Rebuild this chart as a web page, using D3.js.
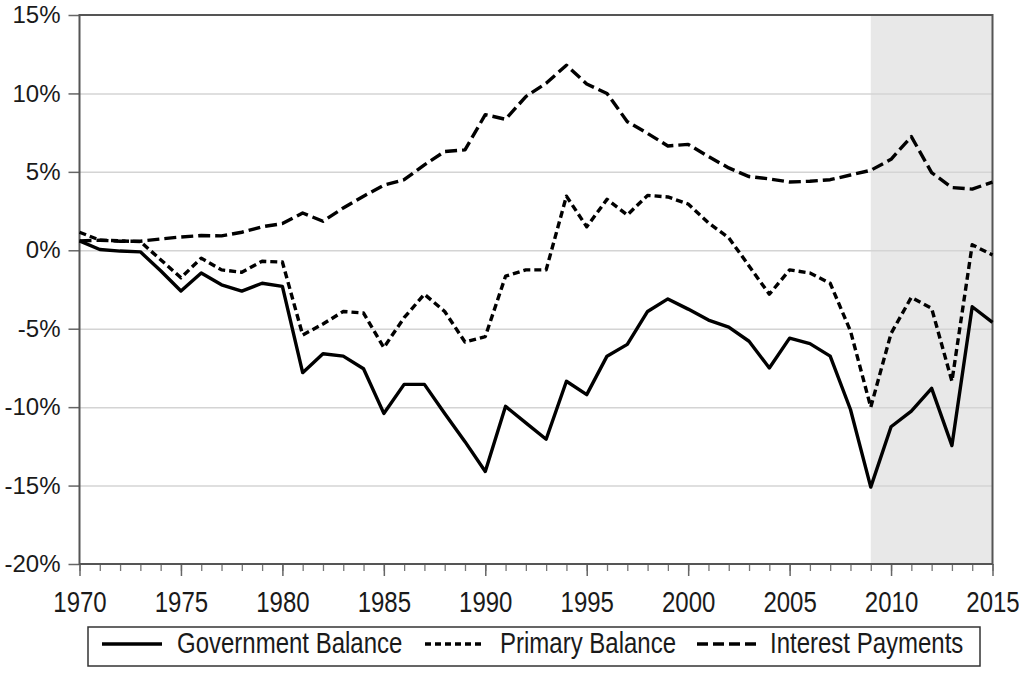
<!DOCTYPE html>
<html>
<head>
<meta charset="utf-8">
<script src="https://cdn.jsdelivr.net/npm/d3@7"></script>
<style>
  body { margin: 0; background: #fff; }
  text { font-family: "Liberation Sans", Arial, sans-serif; fill: #1a1a1a; }
</style>
</head>
<body>
<div class="canvas"></div>
<script>
// years on the x axis
const years = d3.range(1970, 2016);

// series values, % of GDP
const govBalance = [0.6, 0.05, -0.05, -0.1, -1.3, -2.6, -1.45, -2.2, -2.6, -2.1,
  -2.3, -7.8, -6.6, -6.75, -7.55, -10.4, -8.55, -8.55, -10.4, -12.2,
  -14.1, -9.95, -11.0, -12.05, -8.35, -9.2, -6.75, -6.0, -3.9, -3.1,
  -3.75, -4.45, -4.9, -5.8, -7.5, -5.6, -5.95, -6.75, -10.15, -15.1,
  -11.25, -10.25, -8.8, -12.45, -3.6, -4.6];

const primaryBalance = [1.15, 0.65, 0.6, 0.55, -0.6, -1.75, -0.5, -1.25, -1.4, -0.7,
  -0.75, -5.4, -4.7, -3.9, -4.0, -6.2, -4.3, -2.8, -3.9, -5.85,
  -5.5, -1.65, -1.25, -1.25, 3.45, 1.5, 3.25, 2.25, 3.5, 3.4,
  2.95, 1.75, 0.8, -1.0, -2.8, -1.25, -1.45, -2.1, -5.15, -10.0,
  -5.3, -3.0, -3.7, -8.35, 0.35, -0.3];

const interestPayments = [0.6, 0.64, 0.58, 0.58, 0.72, 0.85, 0.94, 0.92, 1.15, 1.5,
  1.7, 2.38, 1.85, 2.7, 3.45, 4.15, 4.5, 5.45, 6.3, 6.4,
  8.65, 8.35, 9.8, 10.65, 11.8, 10.6, 10.0, 8.2, 7.45, 6.65,
  6.75, 5.98, 5.25, 4.7, 4.55, 4.35, 4.4, 4.5, 4.8, 5.1,
  5.8, 7.25, 4.95, 4.0, 3.9, 4.35];

// tick labels
const yTicks = [-20, -15, -10, -5, 0, 5, 10, 15];
const xMajor = [1970, 1975, 1980, 1985, 1990, 1995, 2000, 2005, 2010, 2015];

// shaded period
const shadeYears = [2009, 2015];

const seriesNames = ['Government Balance', 'Primary Balance', 'Interest Payments'];

const width = 1019, height = 686;
const margin = {top: 15, right: 26.5, bottom: 122, left: 79.5};
const graphWidth = width - margin.left - margin.right;
const graphHeight = height - margin.top - margin.bottom;

const svg = d3.select('.canvas')
  .append('svg')
  .attr('width', width)
  .attr('height', height);

const graph = svg.append('g')
  .attr('transform', `translate(${margin.left}, ${margin.top})`);

// scales
const x = d3.scaleLinear().domain([1970, 2015]).range([0, graphWidth]);
const y = d3.scaleLinear().domain([-20, 15]).range([graphHeight, 0]);

// shading for the last period
graph.append('rect')
  .attr('x', x(shadeYears[0]))
  .attr('y', 0)
  .attr('width', x(shadeYears[1]) - x(shadeYears[0]))
  .attr('height', graphHeight)
  .attr('fill', '#e8e8e8');

// horizontal grid lines
const grid = graph.append('g')
  .call(d3.axisLeft(y).tickValues(yTicks.slice(1, -1)).tickSize(-graphWidth).tickFormat(''));
grid.select('.domain').remove();
grid.selectAll('line').attr('stroke', '#d4d4d4').attr('stroke-width', 1.5);

// y axis
const yAxisGroup = graph.append('g')
  .call(d3.axisLeft(y).tickValues(yTicks).tickSize(11).tickPadding(8).tickFormat(d => d + '%'));
yAxisGroup.select('.domain').remove();
yAxisGroup.selectAll('line').attr('stroke', '#666').attr('stroke-width', 1.5);
yAxisGroup.selectAll('text')
  .attr('font-size', 24)
  .attr('fill', '#1a1a1a');

// x axis: minor ticks every year, labelled ticks every five
const xMinor = graph.append('g')
  .attr('transform', `translate(0, ${graphHeight})`)
  .call(d3.axisBottom(x).tickValues(years).tickSize(7).tickFormat(''));
xMinor.select('.domain').remove();
xMinor.selectAll('line').attr('stroke', '#777').attr('stroke-width', 1.3);

const xAxisGroup = graph.append('g')
  .attr('transform', `translate(0, ${graphHeight})`)
  .call(d3.axisBottom(x).tickValues(xMajor).tickSize(12).tickFormat(d => d));
xAxisGroup.select('.domain').remove();
xAxisGroup.selectAll('line').attr('stroke', '#666').attr('stroke-width', 1.5);
// the year labels are a little taller than the rest
xAxisGroup.selectAll('text')
  .attr('font-size', 24)
  .attr('fill', '#1a1a1a')
  .attr('dy', 0)
  .attr('y', 48 / 1.25)
  .attr('transform', 'scale(1,1.25)');

// plot frame
graph.append('rect')
  .attr('width', graphWidth)
  .attr('height', graphHeight)
  .attr('fill', 'none')
  .attr('stroke', '#555')
  .attr('stroke-width', 2);

// lines
const line = d3.line()
  .x((d, i) => x(years[i]))
  .y(d => y(d));

const series = [
  {name: seriesNames[0], values: govBalance, dash: null},
  {name: seriesNames[1], values: primaryBalance, dash: '7,4'},
  {name: seriesNames[2], values: interestPayments, dash: '12,5'}
];

graph.selectAll('path.series')
  .data(series)
  .enter()
  .append('path')
  .attr('class', 'series')
  .attr('d', d => line(d.values))
  .attr('fill', 'none')
  .attr('stroke', '#000')
  .attr('stroke-width', 3.4)
  .attr('stroke-linejoin', 'round')
  .attr('stroke-dasharray', d => d.dash);

// legend
const legend = svg.append('g');
legend.append('rect')
  .attr('x', 88)
  .attr('y', 627)
  .attr('width', 892)
  .attr('height', 39)
  .attr('fill', '#fff')
  .attr('stroke', '#333')
  .attr('stroke-width', 1.5);

const legendItems = [
  {x0: 102, x1: 162, tx: 177},
  {x0: 425, x1: 485, tx: 500},
  {x0: 697, x1: 758, tx: 770}
];

legendItems.forEach((p, i) => {
  legend.append('line')
    .attr('x1', p.x0).attr('x2', p.x1)
    .attr('y1', 644).attr('y2', 644)
    .attr('stroke', '#000')
    .attr('stroke-width', 3.4)
    .attr('stroke-dasharray', i === 1 ? '6,4' : i === 2 ? '11,5' : null);
  legend.append('text')
    .attr('transform', `translate(${p.tx}, 653) scale(1,1.25)`)
    .attr('font-size', 24)
    .text(series[i].name);
});
</script>
</body>
</html>
